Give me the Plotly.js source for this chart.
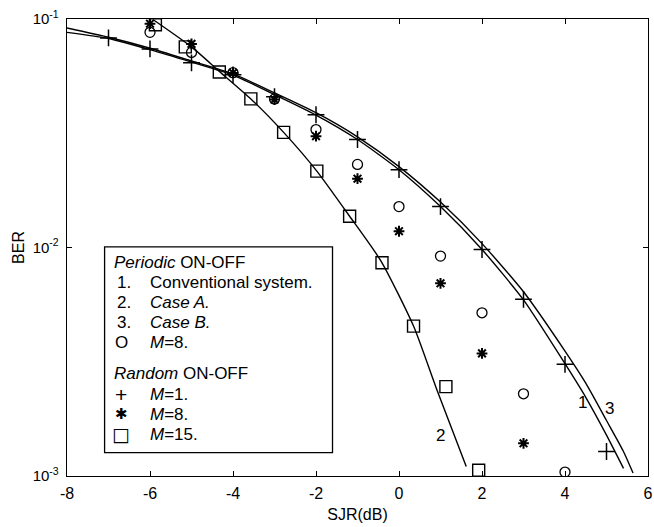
<!DOCTYPE html>
<html>
<head>
<meta charset="utf-8">
<script src="https://cdn.plot.ly/plotly-3.0.1.min.js"></script>
<style>html,body{margin:0;padding:0;background:#fff;}#chart{width:654px;height:527px;}</style>
</head>
<body>
<div id="chart"></div>
<script>
// ---- data ----
const xTickVals = [-8, -6, -4, -2, 0, 2, 4, 6];
const xTickText = ['-8', '-6', '-4', '-2', '0', '2', '4', '6'];
const yTickVals = [0.001, 0.01, 0.1];
const yTickText = ['10<sup>-3</sup>', '10<sup>-2</sup>', '10<sup>-1</sup>'];

// Periodic ON-OFF curves
const conv_x = [-8, -7, -6, -5, -4, -3, -2, -1, 0, 1, 2, 3, 4, 4.5, 5, 5.41];
const conv_y = [0.0874, 0.0822, 0.0735, 0.0648, 0.0568, 0.0467, 0.0380, 0.0297, 0.0219, 0.0151, 0.0098, 0.0059, 0.0031, 0.00221, 0.00151, 0.00108];
const caseA_x = [-5.92, -5, -4.33, -3.57, -2.78, -1.98, -1.19, -0.43, 0.35, 0.91, 1.62];
const caseA_y = [0.0993, 0.0755, 0.059, 0.0447, 0.0319, 0.0216, 0.0137, 0.0087, 0.00453, 0.00239, 0.0011];
const caseB_x = [-8, -7, -6, -5, -4, -3, -2, -1, 0, 1, 2, 3, 4, 4.5, 5, 5.4, 5.64];
const caseB_y = [0.0913, 0.0832, 0.0745, 0.0655, 0.0575, 0.0475, 0.0389, 0.0305, 0.0226, 0.0158, 0.0104, 0.0064, 0.00352, 0.00255, 0.00175, 0.00129, 0.00103];

// Periodic M=8 (circles)
const perM8_x = [-6, -5, -4, -3, -2, -1, 0, 1, 2, 3, 4];
const perM8_y = [0.0874, 0.0714, 0.0582, 0.0447, 0.0328, 0.0231, 0.0151, 0.00917, 0.00518, 0.00229, 0.00104];
// Random M=1 (plus)
const rndM1_x = [-7, -6, -5, -4, -3, -2, -1, 0, 1, 2, 3, 4, 5];
const rndM1_y = [0.0826, 0.0740, 0.0643, 0.0570, 0.0457, 0.0381, 0.0297, 0.0219, 0.0151, 0.0098, 0.00593, 0.00308, 0.00128];
// Random M=8 (stars)
const rndM8_x = [-6, -5, -4, -3, -2, -1, 0, 1, 2, 3];
const rndM8_y = [0.0954, 0.0778, 0.0581, 0.0444, 0.0307, 0.0200, 0.01178, 0.00697, 0.00344, 0.00139];
// Random M=15 (squares)
const rndM15_x = [-5.87, -5.15, -4.33, -3.57, -2.78, -1.98, -1.19, -0.41, 0.35, 1.13, 1.92];
const rndM15_y = [0.0944, 0.0755, 0.0586, 0.0447, 0.0319, 0.0216, 0.0137, 0.00857, 0.00453, 0.00246, 0.00106];

// curve labels
const curveLabels = ['1', '2', '3'];
const curveLabelX = [4.41, 1.01, 5.08];
const curveLabelY = [0.00209, 0.0015, 0.00198];

// legend content
const legendHeaders = ['<i>Periodic</i> ON-OFF', '<i>Random</i> ON-OFF'];
const legendKeys = ['1.', '2.', '3.', 'O', '+', '\u2731', '\u25A1'];
const legendTexts = ['Conventional system.', '<i>Case A.</i>', '<i>Case B.</i>', '<i>M</i>=8.', '<i>M</i>=1.', '<i>M</i>=8.', '<i>M</i>=15.'];

// ---- plot ----
const F = 'Liberation Sans, Arial, sans-serif';
const lineStyle = {color: '#000', width: 1.4, shape: 'spline', smoothing: 0.6};
const traces = [
  {x: conv_x, y: conv_y, mode: 'lines', line: lineStyle, name: 'Conventional system'},
  {x: caseB_x, y: caseB_y, mode: 'lines', line: lineStyle, name: 'Case B'},
  {x: caseA_x, y: caseA_y, mode: 'lines', line: lineStyle, name: 'Case A'},
  {x: perM8_x, y: perM8_y, mode: 'markers', marker: {symbol: 'circle-open', size: 10, color: '#000', line: {width: 1.3, color: '#000'}}, name: 'Periodic M=8'},
  {x: rndM1_x, y: rndM1_y, mode: 'markers', marker: {symbol: 'cross-thin-open', size: 12, color: '#000', line: {width: 1.5, color: '#000'}}, name: 'Random M=1'},
  {x: rndM8_x, y: rndM8_y, mode: 'markers', marker: {symbol: 'asterisk-open', size: 9, color: '#000', line: {width: 2, color: '#000'}}, name: 'Random M=8'},
  {x: rndM15_x, y: rndM15_y, mode: 'markers', marker: {symbol: 'square-open', size: 12, color: '#000', line: {width: 1.4, color: '#000'}}, name: 'Random M=15'}
];

const annotations = [];
curveLabels.forEach((t, i) => annotations.push({
  x: curveLabelX[i], y: Math.log10(curveLabelY[i]), xref: 'x', yref: 'y', text: t,
  showarrow: false, font: {family: F, size: 17, color: '#000'}
}));

// legend layout (paper coordinates)
const symX = 0.093, numX = 0.0831, txtX = 0.1387, hdrX = 0.0775;
const hdrY = [0.4672, 0.2245];
const rowY = [0.4235, 0.3798, 0.336, 0.2923, 0.1786, 0.1349, 0.0912];
const LF = 17;
legendHeaders.forEach((t, i) => annotations.push({
  x: hdrX, y: hdrY[i], xref: 'paper', yref: 'paper', xanchor: 'left', yanchor: 'middle',
  text: t, showarrow: false, font: {family: F, size: LF, color: '#000'}
}));
legendKeys.forEach((k, i) => {
  const isNum = i < 3;
  let size = LF, fam = F;
  if (k === '+') size = 21;
  if (k === '\u2731') { fam = 'DejaVu Sans, sans-serif'; size = 15; }
  if (k === '\u25A1') { fam = 'DejaVu Sans, sans-serif'; size = 19; }
  annotations.push({
    x: isNum ? numX : symX, y: rowY[i], xref: 'paper', yref: 'paper',
    xanchor: isNum ? 'left' : 'center', yanchor: 'middle',
    text: k, showarrow: false, font: {family: fam, size: size, color: '#000'}
  });
  annotations.push({
    x: txtX, y: rowY[i], xref: 'paper', yref: 'paper', xanchor: 'left', yanchor: 'middle',
    text: legendTexts[i], showarrow: false, font: {family: F, size: LF, color: '#000'}
  });
});

const layout = {
  width: 654, height: 527,
  margin: {l: 67, r: 6, t: 19, b: 51},
  paper_bgcolor: '#fff', plot_bgcolor: '#fff',
  showlegend: false,
  font: {family: F, size: 16, color: '#000'},
  xaxis: {
    range: [-8, 6], tickmode: 'array', tickvals: xTickVals, ticktext: xTickText,
    ticks: 'inside', ticklen: 5, tickwidth: 1, tickcolor: '#000',
    showline: true, linecolor: '#000', linewidth: 1.3, mirror: 'ticks',
    showgrid: false, zeroline: false, ticklabelstandoff: 2,
    tickfont: {family: F, size: 16},
    title: {text: 'SJR(dB)', font: {family: F, size: 16}, standoff: 8}
  },
  yaxis: {
    type: 'log', range: [-3, -1], tickmode: 'array', tickvals: yTickVals, ticktext: yTickText,
    ticks: 'inside', ticklen: 5, tickwidth: 1, tickcolor: '#000',
    showline: true, linecolor: '#000', linewidth: 1.3, mirror: 'ticks',
    showgrid: false, zeroline: false, ticklabelstandoff: 4,
    tickfont: {family: F, size: 15},
    title: {text: 'BER', font: {family: F, size: 16}, standoff: 4}
  },
  shapes: [{
    type: 'rect', xref: 'paper', yref: 'paper', x0: 0.0647, x1: 0.457, y0: 0.0512, y1: 0.5015,
    line: {color: '#000', width: 1.3}, fillcolor: '#fff', layer: 'above'
  }],
  annotations: annotations
};

Plotly.newPlot('chart', traces, layout, {displayModeBar: false, staticPlot: true});
</script>
</body>
</html>
